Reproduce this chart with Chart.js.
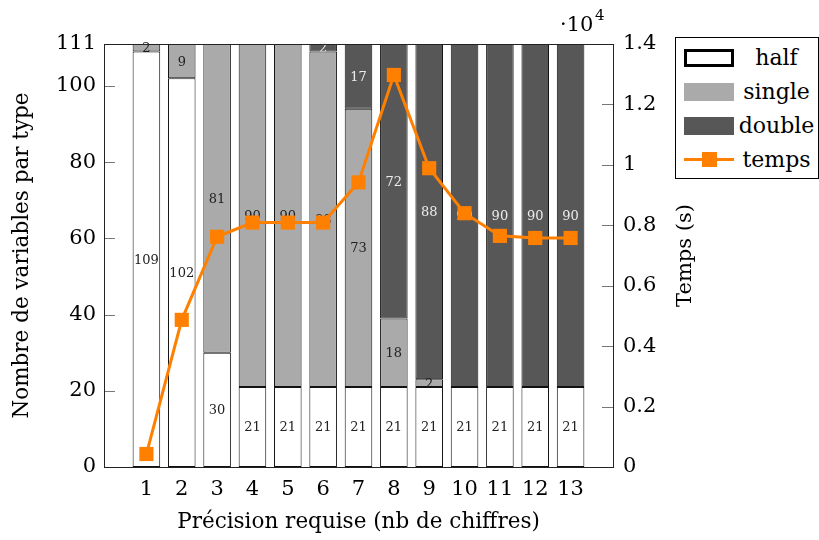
<!DOCTYPE html>
<html>
<head>
<meta charset="utf-8">
<script src="https://cdn.jsdelivr.net/npm/chart.js@4"></script>
<style>
  body { margin: 0; background: #fff; }
  #wrap { position: relative; width: 819px; height: 540px; }
  #legend {
    position: absolute; left: 675px; top: 37px; width: 144px; height: 142px;
    border: 1px solid #000; box-sizing: border-box; background: #fff;
    font-family: "DejaVu Serif", serif; font-size: 22px; color: #000;
  }
  .row { position: absolute; left: 0; height: 30px; width: 143px; }
  .sw { position: absolute; left: 8px; top: 6px; width: 50px; height: 18px; box-sizing: border-box; }
  .lab { position: absolute; left: 58px; right: 0; top: 0; line-height: 30px; text-align: center; }
</style>
</head>
<body>
<div id="wrap">
  <canvas id="chart" width="819" height="540"></canvas>
  <div id="legend"></div>
</div>
<script>
// data
const precision = [1, 2, 3, 4, 5, 6, 7, 8, 9, 10, 11, 12, 13];
const half   = [109, 102, 30, 21, 21, 21, 21, 21, 21, 21, 21, 21, 21];
const single = [2, 9, 81, 90, 90, 88, 73, 18, 2, 0, 0, 0, 0];
const double = [0, 0, 0, 0, 0, 2, 17, 72, 88, 90, 90, 90, 90];
const temps  = [430, 4870, 7620, 8090, 8090, 8090, 9420, 12975, 9890, 8400, 7650, 7580, 7580];
const leftTicks = [0, 20, 40, 60, 80, 100, 111];

const orange = '#ff8000';
const serif = '"DejaVu Serif"';
const toXY = arr => arr.map((v, i) => ({ x: precision[i], y: v }));

// labels in the middle of each bar segment, drawn under the line
const segmentLabels = {
  id: 'segmentLabels',
  afterDatasetDraw(chart, args) {
    const ds = chart.data.datasets[args.index];
    if (ds.type !== 'bar') return;
    const ctx = chart.ctx;
    ctx.save();
    ctx.font = '13px ' + serif;
    ctx.textAlign = 'center';
    ctx.textBaseline = 'middle';
    ctx.fillStyle = ds.labelColor;
    args.meta.data.forEach((el, i) => {
      const v = ds.data[i].y;
      if (!v) return;
      const p = el.getProps(['x', 'y', 'base'], true);
      ctx.fillText(String(v), p.x, (p.y + p.base) / 2 + 1);
    });
    ctx.restore();
  }
};

// frame, inward ticks, right title and the exponent
const frame = {
  id: 'frame',
  afterDraw(chart) {
    const { ctx, chartArea: a, scales } = chart;
    ctx.save();
    ctx.strokeStyle = '#777';
    ctx.lineWidth = 1;
    ctx.beginPath();
    leftTicks.forEach(t => {
      const y = Math.round(scales.y.getPixelForValue(t)) + 0.5;
      ctx.moveTo(a.left, y); ctx.lineTo(a.left + 11, y);
    });
    for (let t = 0; t <= 14000; t += 2000) {
      const y = Math.round(scales.y1.getPixelForValue(t)) + 0.5;
      ctx.moveTo(a.right, y); ctx.lineTo(a.right - 11, y);
    }
    ctx.stroke();
    ctx.strokeStyle = '#222';
    ctx.strokeRect(Math.round(a.left) + 0.5, Math.round(a.top) + 0.5,
      Math.round(a.right - a.left), Math.round(a.bottom - a.top));

    ctx.fillStyle = '#000';
    ctx.font = '21px ' + serif;
    ctx.textAlign = 'center';
    ctx.textBaseline = 'middle';
    ctx.translate(686, (a.top + a.bottom) / 2);
    ctx.rotate(-Math.PI / 2);
    ctx.fillText('Temps (s)', 0, 0);
    ctx.setTransform(1, 0, 0, 1, 0, 0);

    ctx.textAlign = 'left';
    ctx.textBaseline = 'alphabetic';
    ctx.fillText('\u00b710', 560, 31);
    ctx.font = '15px ' + serif;
    ctx.fillText('4', 595, 20);
    ctx.restore();
  }
};

const barDefaults = {
  type: 'bar',
  borderColor: '#111',
  borderWidth: 1,
  borderSkipped: false,
  categoryPercentage: 1,
  barPercentage: 0.78,
  order: 1
};

new Chart(document.getElementById('chart'), {
  data: {
    datasets: [
      { ...barDefaults, label: 'half', data: toXY(half), backgroundColor: '#ffffff', labelColor: '#222' },
      { ...barDefaults, label: 'single', data: toXY(single), backgroundColor: '#aaaaaa', labelColor: '#222' },
      { ...barDefaults, label: 'double', data: toXY(double), backgroundColor: '#575757', labelColor: '#ececec' },
      {
        type: 'line', label: 'temps', data: toXY(temps), yAxisID: 'y1', order: 0,
        borderColor: orange, backgroundColor: orange, borderWidth: 3,
        pointStyle: 'rect', pointRadius: 10, pointHoverRadius: 10, pointBorderWidth: 0
      }
    ]
  },
  options: {
    responsive: false,
    animation: false,
    devicePixelRatio: 1,
    font: { family: serif },
    layout: { padding: { top: 44, left: 0, right: 0, bottom: 0 } },
    plugins: { legend: { display: false }, tooltip: { enabled: false } },
    scales: {
      x: {
        type: 'linear', stacked: true, offset: false, min: -0.2, max: 14.2,
        afterBuildTicks: s => { s.ticks = precision.map(v => ({ value: v })); },
        afterFit: s => { s.height = 73; },
        grid: { display: false, drawTicks: false },
        border: { display: false },
        ticks: { padding: 10, color: '#000', font: { size: 21, family: serif }, maxRotation: 0, autoSkip: false },
        title: { display: true, text: 'Précision requise (nb de chiffres)', color: '#000',
          font: { size: 21.5, family: serif }, padding: { top: 0, bottom: 5 } }
      },
      y: {
        stacked: true, min: 0, max: 111,
        afterBuildTicks: s => { s.ticks = leftTicks.map(v => ({ value: v })); },
        afterFit: s => { s.width = 104; },
        grid: { display: false, drawTicks: false },
        border: { display: false },
        ticks: { padding: 8, color: '#000', font: { size: 21, family: serif } },
        title: { display: true, text: 'Nombre de variables par type', color: '#000',
          font: { size: 21.5, family: serif }, padding: { top: 10, bottom: 0 } }
      },
      y1: {
        position: 'right', min: 0, max: 14000,
        afterBuildTicks: s => {
          const t = [];
          for (let v = 0; v <= 14000; v += 2000) t.push({ value: v });
          s.ticks = t;
        },
        afterFit: s => { s.width = 206; },
        grid: { display: false, drawTicks: false },
        border: { display: false },
        ticks: { padding: 10, color: '#000', font: { size: 21, family: serif },
          callback: v => String(Math.round(v / 1000) / 10) }
      }
    }
  },
  plugins: [segmentLabels, frame]
});

// legend built from the dataset names
const legend = document.getElementById('legend');
const swatches = [
  'background:#fff;border:3px solid #000;',
  'background:#aaaaaa;',
  'background:#575757;',
  null
];
['half', 'single', 'double', 'temps'].forEach((name, i) => {
  const row = document.createElement('div');
  row.className = 'row';
  row.style.top = (5 + i * 34) + 'px';
  let sw;
  if (swatches[i]) {
    sw = '<div class="sw" style="' + swatches[i] + '"></div>';
  } else {
    sw = '<div style="position:absolute;left:8px;top:13px;width:50px;height:3px;background:' + orange + '"></div>' +
         '<div style="position:absolute;left:26px;top:7px;width:15px;height:15px;background:' + orange + '"></div>';
  }
  row.innerHTML = sw + '<div class="lab">' + name + '</div>';
  legend.appendChild(row);
});
</script>
</body>
</html>
